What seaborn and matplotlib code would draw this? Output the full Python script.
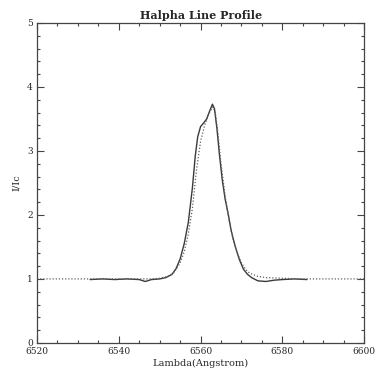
import numpy as np
import pandas as pd
import matplotlib
matplotlib.use("Agg")
import matplotlib.pyplot as plt
import seaborn as sns
from matplotlib.ticker import MultipleLocator

# Observed profile (solid)
obs_wl = [6533, 6536, 6539, 6542, 6545, 6546.5, 6548, 6550, 6551.5, 6553, 6554, 6555,
          6556, 6557, 6558, 6558.7, 6559.3, 6560, 6560.8, 6561.5, 6562.2, 6562.9,
          6563.4, 6564, 6564.6, 6565.3, 6566, 6566.8, 6567.5, 6568.5, 6569.5, 6570.5,
          6571.5, 6572.5, 6574, 6576, 6578, 6580, 6583, 6586]
obs_i = [0.99, 1.00, 0.99, 1.00, 0.99, 0.96, 0.99, 1.00, 1.02, 1.07, 1.16, 1.31,
         1.55, 1.88, 2.42, 2.92, 3.22, 3.38, 3.44, 3.50, 3.62, 3.73,
         3.66, 3.35, 2.95, 2.55, 2.25, 2.00, 1.75, 1.50, 1.30, 1.15,
         1.07, 1.02, 0.97, 0.96, 0.98, 0.99, 1.00, 0.99]

# Model profile (dotted)
mod_wl = [6520, 6525, 6530, 6535, 6540, 6545, 6548, 6550, 6552, 6553.5, 6555, 6556,
          6557, 6558, 6559, 6560, 6561, 6562, 6563, 6563.6, 6564.3, 6565, 6566,
          6567, 6568, 6569, 6570, 6571, 6572, 6574, 6576, 6580, 6585, 6590, 6595, 6600]
mod_i = [1.00, 1.00, 1.00, 1.00, 1.00, 1.00, 1.00, 1.01, 1.04, 1.10, 1.25, 1.42,
         1.70, 2.10, 2.70, 3.15, 3.40, 3.58, 3.69, 3.60, 3.25, 2.80, 2.30,
         1.90, 1.60, 1.40, 1.25, 1.15, 1.09, 1.04, 1.02, 1.01, 1.00, 1.00, 1.00, 1.00]

x_ticks = [6520, 6540, 6560, 6580, 6600]
y_ticks = [0, 1, 2, 3, 4, 5]

sns.set_style("ticks")
plt.rcParams['font.family'] = ['DejaVu Serif']

fig = plt.figure(figsize=(3.77, 3.76), dpi=100)
ax = fig.add_axes([0.098, 0.088, 0.868, 0.851])

obs = pd.DataFrame({"wl": obs_wl, "I": obs_i})
mod = pd.DataFrame({"wl": mod_wl, "I": mod_i})

sns.lineplot(data=obs, x="wl", y="I", ax=ax, color="#3a3a3a", linewidth=1.0, sort=False)
sns.lineplot(data=mod, x="wl", y="I", ax=ax, color="#606060", linewidth=0.9,
             linestyle=(0, (1, 1.5)), sort=False)

ax.set_xlim(6520, 6600)
ax.set_ylim(0, 5)
ax.set_xticks(x_ticks)
ax.set_yticks(y_ticks)
ax.xaxis.set_minor_locator(MultipleLocator(5))
ax.yaxis.set_minor_locator(MultipleLocator(0.2))
ax.tick_params(which="both", direction="in", top=True, right=True,
               labelsize=6.5, color="#444444", width=0.8, pad=3)
ax.tick_params(which="major", length=5)
ax.tick_params(which="minor", length=2.5)
for s in ax.spines.values():
    s.set_color("#444444")
    s.set_linewidth(0.9)

ax.set_xlabel("Lambda(Angstrom)", fontsize=7, labelpad=2)
ax.set_ylabel("I/Ic", fontsize=7, labelpad=4)
ax.set_title("Halpha Line Profile", fontsize=8, fontweight="bold", pad=3)

fig.savefig("out.png", dpi=100)
